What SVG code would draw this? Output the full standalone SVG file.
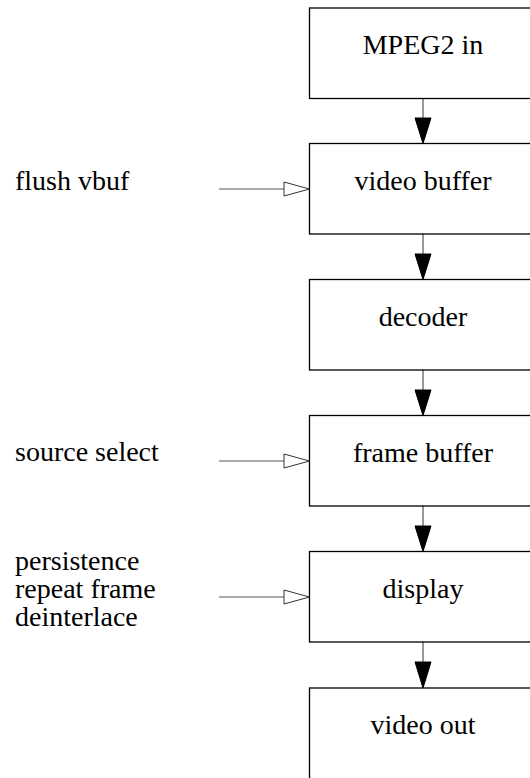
<svg xmlns="http://www.w3.org/2000/svg" width="530" height="778" viewBox="0 0 530 778">
<defs>
<style>
.box{fill:#fff;stroke:#000;stroke-width:1.3}
.lbl{font-family:"Liberation Serif","Times New Roman",serif;font-size:28px;fill:#000}
.c{text-anchor:middle}
.ln{stroke:#555;stroke-width:1.2;fill:none}
.fh{fill:#000;stroke:#000;stroke-width:1}
.oh{fill:#fff;stroke:#333;stroke-width:1}
</style>
</defs>
<rect width="530" height="778" fill="#fff"/>
<g id="connectors">
<line class="ln" x1="423" y1="98.5" x2="423" y2="118"/><polygon class="fh" points="415,118 431,118 423,143.5"/>
<line class="ln" x1="423" y1="234" x2="423" y2="254"/><polygon class="fh" points="415,254 431,254 423,279.5"/>
<line class="ln" x1="423" y1="370" x2="423" y2="390"/><polygon class="fh" points="415,390 431,390 423,415.5"/>
<line class="ln" x1="423" y1="506" x2="423" y2="526"/><polygon class="fh" points="415,526 431,526 423,551.5"/>
<line class="ln" x1="423" y1="642" x2="423" y2="662"/><polygon class="fh" points="415,662 431,662 423,688"/>
<line class="ln" x1="219" y1="189" x2="284" y2="189"/><polygon class="oh" points="284,182 284,196 309.5,189"/>
<line class="ln" x1="219" y1="461" x2="284" y2="461"/><polygon class="oh" points="284,454 284,468 309.5,461"/>
<line class="ln" x1="219" y1="597" x2="284" y2="597"/><polygon class="oh" points="284,590 284,604 309.5,597"/>
</g>
<g id="n_mpeg"><rect class="box" x="309.5" y="8" width="230" height="90.5"/><text class="lbl c" x="423" y="54">MPEG2 in</text></g>
<g id="n_vbuf"><rect class="box" x="309.5" y="143.5" width="230" height="90.5"/><text class="lbl c" x="423" y="189.5">video buffer</text></g>
<g id="n_dec"><rect class="box" x="309.5" y="279.5" width="230" height="90.5"/><text class="lbl c" x="423" y="325.5">decoder</text></g>
<g id="n_fbuf"><rect class="box" x="309.5" y="415.5" width="230" height="90.5"/><text class="lbl c" x="423" y="461.5">frame buffer</text></g>
<g id="n_disp"><rect class="box" x="309.5" y="551.5" width="230" height="90.5"/><text class="lbl c" x="423" y="597.5">display</text></g>
<g id="n_out"><rect class="box" x="309.5" y="688" width="230" height="95"/><text class="lbl c" x="423" y="734">video out</text></g>
<g id="in_flush"><text class="lbl" x="15" y="190">flush vbuf</text></g>
<g id="in_src"><text class="lbl" x="15" y="461">source select</text></g>
<g id="in_disp"><text class="lbl" x="15" y="570">persistence</text><text class="lbl" x="15" y="598">repeat frame</text><text class="lbl" x="15" y="626">deinterlace</text></g>
</svg>
